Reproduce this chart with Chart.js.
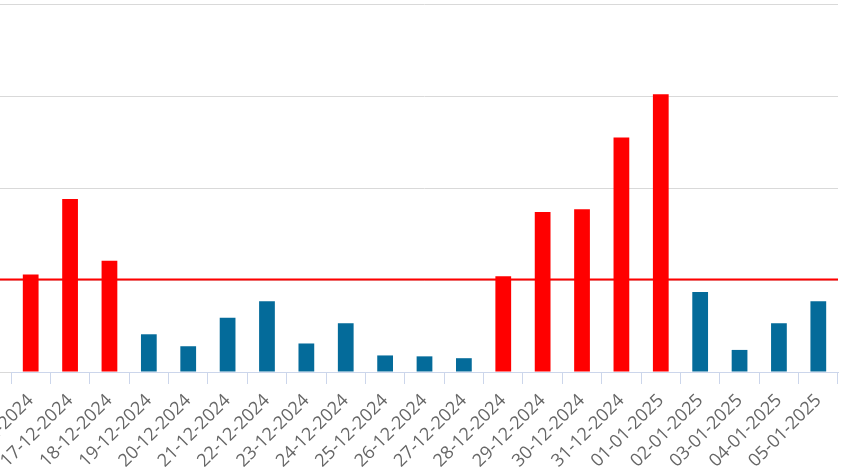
<!DOCTYPE html>
<html>
<head>
<meta charset="utf-8">
<script src="https://cdn.jsdelivr.net/npm/chart.js@4/dist/chart.umd.min.js"></script>
<style>
  html, body { margin: 0; padding: 0; background: #fff; overflow: hidden; }
  #wrap { position: relative; width: 843px; height: 474px; }
</style>
</head>
<body>
<div id="wrap"><canvas id="barChart"></canvas></div>
<script>
// daily values, 16-12-2024 .. 05-01-2025
var days = ['16-12-2024', '17-12-2024', '18-12-2024', '19-12-2024', '20-12-2024', '21-12-2024',
    '22-12-2024', '23-12-2024', '24-12-2024', '25-12-2024', '26-12-2024', '27-12-2024',
    '28-12-2024', '29-12-2024', '30-12-2024', '31-12-2024', '01-01-2025', '02-01-2025',
    '03-01-2025', '04-01-2025', '05-01-2025'];
var values = [106, 188, 121, 41, 28, 59, 77, 31, 53, 18, 17, 15, 104, 174, 177, 255, 302, 87, 24, 53, 77];
var threshold = 100;
var yTicks = [0, 100, 200, 300, 400];

var overColor = '#ff0000';
var underColor = '#046b9a';

var barColors = values.map(function(v) {
    return v > threshold ? overColor : underColor;
});

// red limit line across the plot
var thresholdLine = {
    id: 'thresholdLine',
    afterDatasetsDraw: function(chart) {
        var ctx = chart.ctx;
        var y = chart.scales.y.getPixelForValue(threshold);
        ctx.save();
        ctx.strokeStyle = '#ff0000';
        ctx.lineWidth = 2;
        ctx.beginPath();
        ctx.moveTo(0, y - 0.5);
        ctx.lineTo(chart.chartArea.right, y - 0.5);
        ctx.stroke();
        ctx.restore();
    }
};

document.addEventListener('DOMContentLoaded', function() {
    var ctx = document.getElementById('barChart').getContext('2d');

    new Chart(ctx, {
        type: 'bar',
        data: {
            labels: days,
            datasets: [{
                data: values,
                backgroundColor: barColors,
                barPercentage: 0.8,
                categoryPercentage: 0.5
            }]
        },
        options: {
            responsive: true,
            maintainAspectRatio: false,
            animation: false,
            layout: { padding: { top: 4, right: 5, left: 0, bottom: 0 } },
            plugins: {
                legend: { display: false },
                tooltip: { enabled: false }
            },
            scales: {
                x: {
                    grid: {
                        offset: true,
                        drawOnChartArea: false,
                        drawTicks: true,
                        tickLength: 12,
                        color: '#ccd6eb'
                    },
                    border: { color: '#ccd6eb', width: 1 },
                    ticks: {
                        autoSkip: false,
                        maxRotation: 45,
                        minRotation: 45,
                        padding: 6,
                        color: '#666666',
                        font: { family: '"Open Sans"', size: 18 }
                    },
                    afterFit: function(scale) {
                        scale.paddingLeft = 0;
                        scale.paddingRight = 0;
                        scale.height = 102;
                    }
                },
                y: {
                    min: 0,
                    max: 400,
                    afterBuildTicks: function(scale) {
                        scale.ticks = yTicks.map(function(v) { return { value: v }; });
                    },
                    grid: {
                        color: '#d9d9d9',
                        drawTicks: true,
                        tickLength: 11
                    },
                    border: { display: false },
                    ticks: { display: false }
                }
            }
        },
        plugins: [thresholdLine]
    });
});
</script>
</body>
</html>
